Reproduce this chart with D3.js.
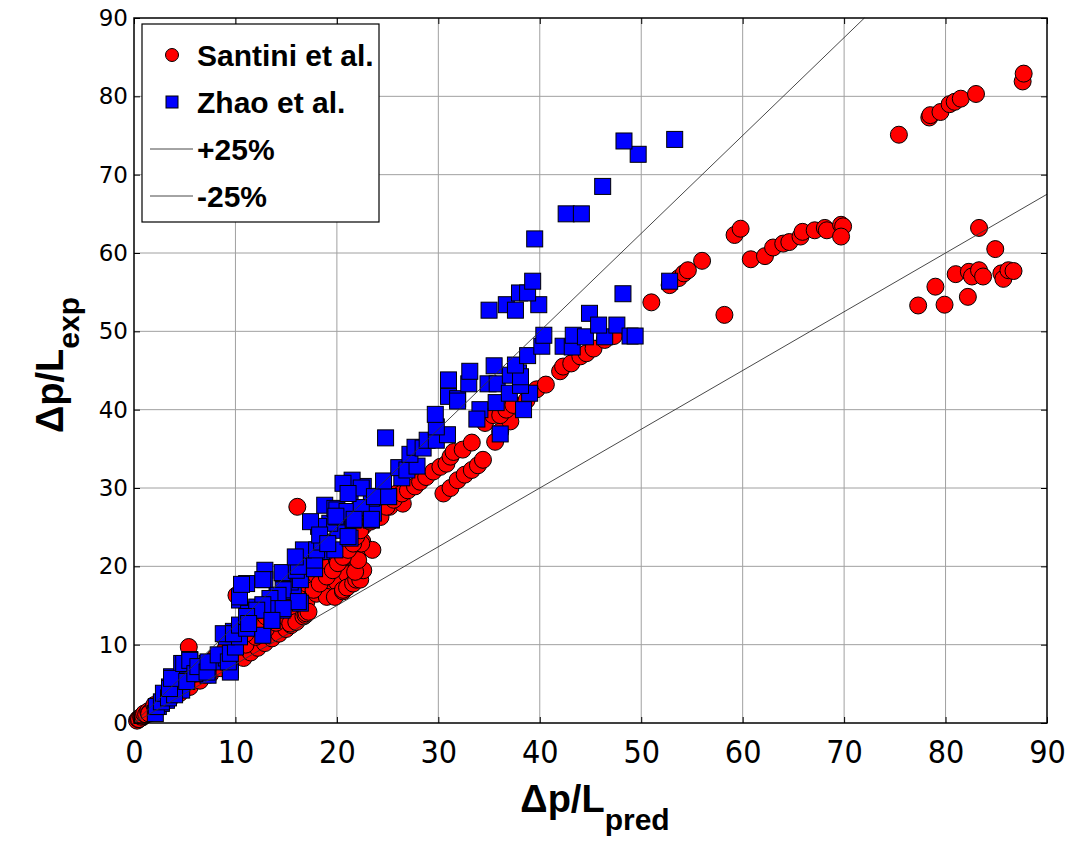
<!DOCTYPE html>
<html lang="en">
<head>
<meta charset="UTF-8">
<title>Dp/L exp vs pred</title>
<script src="https://d3js.org/d3.v7.min.js"></script>
<style>
    body { margin: 0; background: #fff; }
    .grid line { stroke: #a0a0a0; stroke-width: 1px; }
    .axis path { display: none; }
    .axis line { stroke: #000; }
    .xaxis text { font-family: "Liberation Sans Narrow", "DejaVu Sans Condensed", sans-serif; font-size: 32px; fill: #000; }
    .yaxis text { font-family: "DejaVu Sans", sans-serif; font-size: 23px; fill: #000; }
    .title { font-family: "Liberation Sans Narrow", sans-serif; font-weight: bold; fill: #000; }
    .legend text { font-family: "Liberation Sans Narrow", sans-serif; font-weight: bold; font-size: 30px; fill: #000; }
</style>
</head>
<body>
<svg id="chart" width="1070" height="847"></svg>
<script>
var xTicks = [0, 10, 20, 30, 40, 50, 60, 70, 80, 90];
var yTicks = [0, 10, 20, 30, 40, 50, 60, 70, 80, 90];

// [pred, exp]
var santini = [
    [0.3,0.3],[0.4,0.5],[0.6,0.6],[0.8,0.7],[1.1,1.0],[1.3,1.2],[1.6,1.5],[1.7,1.6],
    [0.5,0.5],[0.7,0.8],[0.9,0.9],[1.0,1.2],[1.2,1.1],[1.4,1.5],[1.5,1.3],[1.8,1.7],[2.0,2.0],[2.2,1.9],
    [2.5,2.4],[2.8,2.6],[3.0,3.0],[3.3,3.0],[3.6,3.5],[4.0,3.7],[4.3,4.2],[4.6,4.3],[5.0,4.8],[5.3,5.0],
    [5.6,5.5],[6.0,5.6],[6.3,6.1],[6.6,6.2],[7.0,6.7],[7.4,7.0],[7.8,7.5],[8.2,7.7],[8.6,8.3],[9.0,8.4],
    [9.4,9.0],[9.8,9.2],[10.2,9.8],[10.6,10.0],[11.0,10.5],[11.4,10.8],[11.8,11.3],[12.2,11.5],[12.6,12.0],[13.0,12.2],
    [13.4,12.8],[13.8,13.0],[14.2,13.5],[14.6,13.8],[15.0,14.3],[15.4,14.6],[15.8,15.2],[16.2,15.5],[16.6,16.0],[17.0,16.4],
    [17.4,17.0],[17.8,17.2],[18.2,17.8],[18.6,18.0],[19.0,18.6],[19.4,18.9],[19.8,19.4],[20.2,19.8],[20.6,20.3],[21.0,20.6],
    [21.4,21.2],[21.8,21.5],[22.2,22.0],
    [1.5,1.2],[2.5,2.1],[3.5,3.0],[4.5,3.8],[5.5,4.6],[6.5,5.4],[7.5,6.2],[8.5,7.0],[9.5,7.7],[10.8,8.3],
    [11.5,9.0],[12.2,9.6],[12.9,10.2],[13.6,10.8],[14.3,11.4],[15.0,12.0],
    [11.0,10.0],[12.0,11.0],[13.0,12.0],[14.0,12.8],[15.0,13.5],[16.0,14.3],[17.0,15.5],[18.0,16.5],[19.0,17.3],[20.0,18.0],
    [21.0,19.0],[22.0,20.0],
    [2.0,2.3],[3.0,3.4],[4.0,4.4],[5.0,5.3],[6.0,6.3],[7.0,7.3],[8.0,8.4],[9.0,9.4],[10.0,10.6],[11.0,11.4],
    [12.0,12.5],[13.0,13.6],[14.0,14.5],[15.0,15.7],[16.0,16.6],[17.0,17.8],[18.0,18.8],[19.0,19.8],[20.0,20.8],[21.0,21.8],
    [22.0,22.8],[22.5,23.2],
    [5.4,9.7],[10.1,16.3],[16.1,27.6],[23.5,22.1],
    [15.5,12.5],[15.4,12.7],[16.0,12.9],[16.7,13.6],[16.9,13.8],[17.0,14.0],[17.2,14.2],
    [19.0,16.1],[19.8,16.1],[20.6,16.8],[20.6,17.0],[21.0,17.3],[21.6,17.8],[21.9,18.3],[22.3,18.3],[22.6,19.5],
    [21.8,19.3],[22.1,20.8],[22.4,22.9],[22.6,25.1],
    [17.7,17.0],[18.3,17.8],[19.0,18.7],[19.6,19.5],[20.1,20.4],[20.6,21.2],[21.1,22.1],[21.6,22.9],[21.9,23.8],[22.3,24.6],
    [23.9,26.8],[25.2,27.6],[25.9,29.3],[24.3,26.3],[23.3,25.7],[26.5,28.0],[24.9,27.6],[25.6,28.5],
    [26.4,29.3],[27.0,29.7],[27.7,30.2],[28.2,30.8],[28.8,31.4],[29.5,32.1],[30.2,32.7],[30.8,33.1],[31.2,34.0],[31.5,34.6],
    [32.4,34.9],[33.3,35.8],
    [30.5,29.3],[31.2,30.0],[31.9,31.0],[32.6,31.7],[33.3,32.3],[33.9,32.9],[34.4,33.6],
    [35.6,35.9],[36.1,37.2],[37.1,38.5],[34.6,38.3],[35.4,39.3],[36.1,39.3],[36.7,40.0],[37.4,40.6],[38.7,41.2],
    [39.7,42.6],[40.6,43.2],[42.0,44.9],[42.3,45.5],[43.1,45.9],[44.0,46.8],[44.6,47.2],[45.3,47.8],[46.4,48.9],[47.3,49.4],
    [51.0,53.7],[52.8,55.9],[53.7,56.8],[54.2,57.4],[54.6,57.8],[56.0,59.0],[58.2,52.1],[59.2,62.3],[59.8,63.1],
    [60.8,59.2],[62.2,59.6],[63.0,60.7],[64.0,61.2],[64.6,61.4],[65.7,62.1],[65.9,62.7],[67.1,62.9],[68.1,63.2],[68.3,62.9],
    [69.7,63.6],[69.9,63.4],[69.7,62.1],
    [75.4,75.1],[78.4,77.3],[78.5,77.6],[79.5,78.0],[80.4,79.0],[80.9,79.3],[81.5,79.7],[83.0,80.3],[87.6,81.9],[87.7,82.9],
    [83.3,63.2],[84.9,60.5],[81.0,57.3],[82.3,57.6],[82.6,57.0],[83.3,57.8],[83.7,57.0],[85.5,57.4],[85.7,56.7],[86.2,57.8],
    [86.7,57.7],[79.0,55.7],[82.2,54.4],[77.3,53.3],[79.9,53.4]
];

var zhao = [
    [2.1,1.2],[2.4,2.1],[2.7,2.5],[3.2,2.9],[3.4,3.4],[3.5,4.6],[4.7,4.2],[3.7,5.9],[5.0,5.5],[6.2,6.3],
    [7.3,6.1],[9.5,6.8],[4.7,7.6],[5.5,8.1],[7.2,7.6],[8.1,7.8],[9.1,8.3],[2.2,2.1],[2.7,2.7],[2.9,3.8],
    [3.4,3.2],[4.0,3.6],[3.5,4.4],[3.7,5.7],[5.2,5.3],[4.9,7.6],[5.5,8.0],[6.0,6.3],[6.3,7.2],[7.2,6.5],
    [7.3,7.8],[8.3,8.7],[9.5,6.5],[9.3,7.8],[9.5,8.9],[10.0,9.7],[9.1,11.0],[10.4,11.0],[9.8,11.7],[10.9,12.3],
    [8.8,11.4],[9.8,11.4],[10.4,12.5],[11.3,13.6],[11.1,12.1],[11.8,14.4],[10.4,15.7],[12.7,11.2],[13.6,13.1],[14.6,14.4],
    [11.3,14.0],[12.1,14.8],[10.4,16.1],[11.1,17.8],[14.1,16.3],[16.4,15.3],[15.7,16.8],[15.4,18.0],[16.4,18.3],[14.7,19.1],
    [12.9,19.5],[12.9,18.3],[10.6,17.7],[12.7,18.3],[14.6,19.2],[16.0,19.5],[16.4,21.0],[17.2,20.6],[17.8,19.7],[18.5,21.9],
    [16.2,20.0],[17.8,20.8],[16.7,22.1],[18.0,22.1],[19.8,22.1],[21.3,23.6],[20.1,24.6],[18.5,23.1],[19.3,25.5],[18.2,25.1],
    [17.4,25.7],[18.8,27.8],[19.8,27.4],[20.0,26.3],[21.1,26.8],[22.3,27.4],[23.6,26.8],[25.1,28.9],[23.4,28.7],[22.6,30.2],
    [21.3,29.3],[21.6,25.9],[23.4,25.9],[18.3,24.0],[21.1,23.8],[19.1,22.9],[15.9,21.2],[14.7,17.0],[14.2,16.3],[13.4,15.9],
    [16.2,15.5],[13.7,14.6],[14.7,14.6],[12.7,15.1],[12.1,14.4],[13.6,13.1],[11.1,13.6],[11.3,12.7],
    [20.0,27.2],[21.0,27.0],[19.9,26.4],[22.4,27.5],[21.7,26.0],[23.4,26.0],[21.5,31.0],[20.6,30.6],[22.4,30.0],[21.1,29.3],
    [23.7,28.9],[25.1,28.9],[24.6,30.9],[26.4,31.3],[26.1,32.6],[26.9,32.3],[27.9,32.8],[27.2,34.3],[27.7,35.2],[28.5,35.1],
    [28.9,36.1],[29.8,36.1],[24.8,36.4],[30.9,36.8],[29.8,37.8],[29.7,39.4],[31.0,41.7],[31.9,41.4],[31.9,41.1],[31.0,43.8],
    [33.0,43.3],[34.9,43.3],[35.8,43.3],[33.1,44.9],[34.1,40.0],[33.8,38.8],[35.7,40.9],[36.1,36.9],[37.0,42.1],[39.0,42.1],
    [38.1,43.1],[37.9,44.7],[37.1,44.4],[38.1,44.2],[35.5,45.6],[37.6,45.7],[38.8,46.9],[38.4,40.0],[40.2,48.1],[40.4,49.5],
    [42.3,48.1],[43.2,48.0],[43.3,49.5],[44.5,49.3],[46.4,49.3],[44.9,52.3],[45.8,50.8],[47.6,50.8],[48.9,49.4],[49.4,49.4],
    [48.2,54.8],[52.8,56.4],[35.0,52.7],[36.7,53.4],[37.6,52.7],[39.9,53.4],[38.0,54.9],[38.8,54.9],[39.3,56.4],[39.5,61.8],
    [42.6,65.0],[44.1,65.0],[46.2,68.5],[49.7,72.6],[48.3,74.3],[53.3,74.5]
];

var bandLines = [
    { label: "+25%", factor: 1.25 },
    { label: "-25%", factor: 0.75 }
];

var margin = { left: 134, top: 18, right: 23, bottom: 124 };
var width = 1070 - margin.left - margin.right;
var height = 847 - margin.top - margin.bottom;

var svg = d3.select("#chart");
var g = svg.append("g").attr("transform", "translate(" + margin.left + "," + margin.top + ")");

var xScale = d3.scaleLinear().domain([0, 90]).range([0, width]);
var yScale = d3.scaleLinear().domain([0, 90]).range([height, 0]);

svg.append("defs").append("clipPath").attr("id", "plotClip")
    .append("rect").attr("x", -10).attr("width", width + 10).attr("height", height + 10);

// grid
g.append("g").attr("class", "grid")
    .selectAll("line.gx").data(xTicks.slice(1, -1)).enter().append("line")
    .attr("x1", function (d) { return xScale(d); }).attr("x2", function (d) { return xScale(d); })
    .attr("y1", 0).attr("y2", height);
g.append("g").attr("class", "grid")
    .selectAll("line.gy").data(yTicks.slice(1, -1)).enter().append("line")
    .attr("y1", function (d) { return yScale(d); }).attr("y2", function (d) { return yScale(d); })
    .attr("x1", 0).attr("x2", width);

var plot = g.append("g").attr("clip-path", "url(#plotClip)");

// Santini circles
plot.selectAll("circle.santini").data(santini).enter().append("circle")
    .attr("class", "santini")
    .attr("cx", function (d) { return xScale(d[0]); })
    .attr("cy", function (d) { return yScale(d[1]); })
    .attr("r", 8.5)
    .attr("fill", "#ff0000")
    .attr("stroke", "#000")
    .attr("stroke-width", 1);

// Zhao squares
var sq = 16;
plot.selectAll("rect.zhao").data(zhao).enter().append("rect")
    .attr("class", "zhao")
    .attr("x", function (d) { return xScale(d[0]) - sq / 2; })
    .attr("y", function (d) { return yScale(d[1]) - sq / 2; })
    .attr("width", sq).attr("height", sq)
    .attr("fill", "#0000ff")
    .attr("stroke", "#000")
    .attr("stroke-width", 1);

// +/-25% lines
var lineGen = d3.line()
    .x(function (d) { return xScale(d[0]); })
    .y(function (d) { return yScale(d[1]); });
bandLines.forEach(function (b) {
    var xEnd = Math.min(90, 90 / b.factor);
    g.append("path")
        .datum([[0, 0], [xEnd, xEnd * b.factor]])
        .attr("d", lineGen)
        .attr("fill", "none")
        .attr("stroke", "#333")
        .attr("stroke-width", 0.9);
});

// axes (ticks inward, MATLAB style)
g.append("g").attr("class", "axis xaxis")
    .attr("transform", "translate(0," + height + ")")
    .call(d3.axisBottom(xScale).tickValues(xTicks).tickSize(-6).tickPadding(17));
g.append("g").attr("class", "axis")
    .call(d3.axisTop(xScale).tickValues(xTicks).tickSize(-6).tickFormat(""));
g.append("g").attr("class", "axis yaxis")
    .call(d3.axisLeft(yScale).tickValues(yTicks).tickSize(-6).tickPadding(6));
g.append("g").attr("class", "axis")
    .attr("transform", "translate(" + width + ",0)")
    .call(d3.axisRight(yScale).tickValues(yTicks).tickSize(-6).tickFormat(""));

g.append("rect")
    .attr("width", width).attr("height", height)
    .attr("fill", "none").attr("stroke", "#000").attr("stroke-width", 1.5);

// axis titles
var xt = svg.append("text").attr("class", "title")
    .attr("x", 595).attr("y", 812).attr("text-anchor", "middle").attr("font-size", 38);
xt.append("tspan").text("\u0394p/L");
xt.append("tspan").attr("font-size", 30).attr("dy", 18).text("pred");

var yt = svg.append("text").attr("class", "title")
    .attr("transform", "translate(63,365) rotate(-90)")
    .attr("text-anchor", "middle").attr("font-size", 38);
yt.append("tspan").text("\u0394p/L");
yt.append("tspan").attr("font-size", 30).attr("dy", 16).text("exp");

// legend
var legend = svg.append("g").attr("class", "legend").attr("transform", "translate(142,24)");
legend.append("rect").attr("width", 237).attr("height", 198)
    .attr("fill", "#fff").attr("stroke", "#000").attr("stroke-width", 1.2);
var legendItems = [
    { label: "Santini et al.", kind: "circle" },
    { label: "Zhao et al.", kind: "square" },
    { label: bandLines[0].label, kind: "line" },
    { label: bandLines[1].label, kind: "line" }
];
legendItems.forEach(function (it, i) {
    var cy = 31 + i * 47;
    if (it.kind === "circle") {
        legend.append("circle").attr("cx", 30).attr("cy", cy).attr("r", 6.5)
            .attr("fill", "#ff0000").attr("stroke", "#000").attr("stroke-width", 1);
    } else if (it.kind === "square") {
        legend.append("rect").attr("x", 24).attr("y", cy - 6).attr("width", 12).attr("height", 12)
            .attr("fill", "#0000ff").attr("stroke", "#000").attr("stroke-width", 1);
    } else {
        legend.append("line").attr("x1", 8).attr("x2", 51).attr("y1", cy).attr("y2", cy)
            .attr("stroke", "#333").attr("stroke-width", 0.9);
    }
    legend.append("text").attr("x", 55).attr("y", cy + 11).text(it.label);
});
</script>
</body>
</html>
